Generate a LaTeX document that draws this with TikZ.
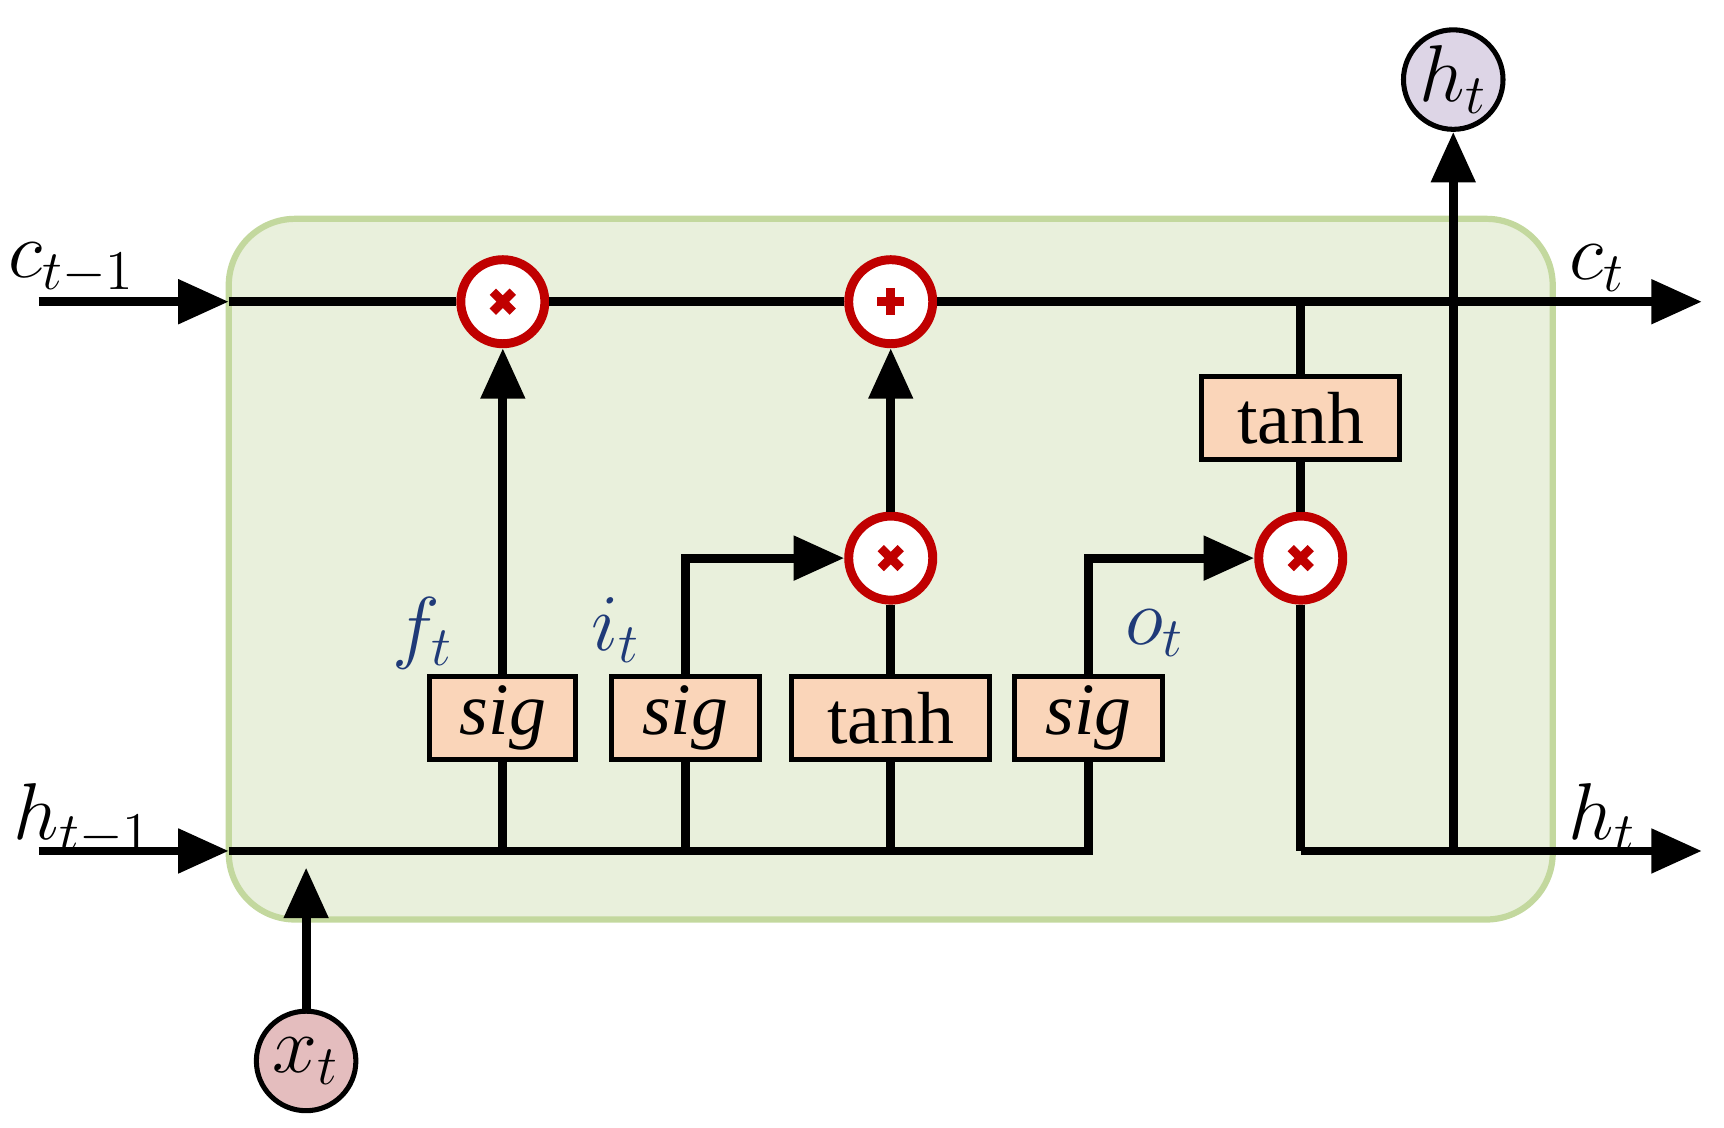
\documentclass[tikz,border=0pt]{standalone}
\usepackage{fontspec}
\setmainfont{Liberation Serif}
\usetikzlibrary{arrows.meta}
\definecolor{cellfill}{HTML}{E9F0DC}
\definecolor{celledge}{HTML}{C3D89E}
\definecolor{boxfill}{HTML}{FAD5B9}
\definecolor{opred}{HTML}{C00000}
\definecolor{lblue}{HTML}{1F3A78}
\definecolor{hfill}{HTML}{DDD5E6}
\definecolor{xfill}{HTML}{E4BDBE}
\begin{document}
\begin{tikzpicture}[x=0.01cm,y=-0.01cm,line width=2.3pt,
    flow/.style={-{Triangle[length=13pt,width=11pt]}},
    gate/.style={draw,line width=1.3pt,fill=boxfill,minimum height=0.75cm,inner sep=0pt,font=\fontsize{19}{20}\selectfont},
    op/.style={draw=opred,line width=2.3pt,fill=white,circle,minimum size=0.76cm,inner sep=0pt},
    io/.style={draw,line width=1.3pt,circle,minimum size=0.9cm,inner sep=0pt,font=\fontsize{20}{22}\selectfont},
    lbl/.style={font=\fontsize{20}{22}\selectfont},
    glbl/.style={lbl,text=lblue}]
        \useasboundingbox (0,0) rectangle (1560,1020);
        \draw[celledge,fill=cellfill,line width=1.6pt,rounded corners=0.6cm] (207,198) rectangle (1405,832);

        % operators
        \node[op] (mf) at (455,273) {};
        \node[op] (ad) at (806,273) {};
        \node[op] (mi) at (806,505) {};
        \node[op] (mo) at (1177,505) {};
        \foreach \n in {mf,mi,mo} {
          \draw[opred,line width=2.3pt] (\n.center) ++(-9,-9) -- ++(18,18) ++(0,-18) -- ++(-18,18);
        }
        \draw[opred,line width=2.3pt] (ad.center) ++(-12,0) -- ++(24,0) ++(-12,-12) -- ++(0,24);

        % gates
        \node[gate,minimum width=1.32cm] (sf) at (455,650) {\itshape sig};
        \node[gate,minimum width=1.34cm] (si) at (620,650) {\itshape sig};
        \node[gate,minimum width=1.79cm] (tc) at (806,650) {tanh};
        \node[gate,minimum width=1.34cm] (so) at (985,650) {\itshape sig};
        \node[gate,minimum width=1.79cm] (th) at (1177,378) {tanh};

        % inputs and outputs
        \node[io,fill=xfill] (x) at (277,960) {$x_t$};
        \node[io,fill=hfill] (ho) at (1315,72) {$h_t$};
        \coordinate (cin) at (35,273);
        \coordinate (cl) at (207,273);
        \coordinate (cout) at (1540,273);
        \coordinate (hin) at (35,770);
        \coordinate (hl) at (207,770);
        \coordinate (hb) at (985,770);
        \coordinate (hr) at (1177,770);
        \coordinate (hout) at (1540,770);
        \coordinate (hs) at (1315,770);

        % cell state line
        \draw[flow] (cin) -- (cl);
        \draw (cl) -- (mf) -- (ad);
        \draw[flow] (ad) -- (cout);
        \draw (th.north |- cl) -- (th) -- (mo);
        \draw (mo) -- (hr);
        \draw[flow] (hr) -- (hout);
        \draw[flow] (hs) -- (ho);

        % hidden state line
        \draw[flow] (hin) -- (hl);
        \draw (hl) -- (hb) -- (so);
        \draw[flow] (x) -- (277,785);
        \draw (sf.south |- hl) -- (sf);
        \draw (si.south |- hl) -- (si);
        \draw (tc.south |- hl) -- (tc);
        \draw[flow] (sf) -- (mf);
        \draw[flow] (si.north) |- (mi);
        \draw (tc) -- (mi);
        \draw[flow] (mi) -- (ad);
        \draw[flow] (so.north) |- (mo);

        % labels
        \node[lbl] at (65,243) {$c_{t-1}$};
        \node[lbl] at (75,742) {$h_{t-1}$};
        \node[lbl] at (1445,243) {$c_t$};
        \node[lbl] at (1450,740) {$h_t$};
        \node[glbl] at (383,573) {$f_t$};
        \node[glbl] at (557,570) {$i_t$};
        \node[glbl] at (1045,573) {$o_t$};
\end{tikzpicture}
\end{document}
